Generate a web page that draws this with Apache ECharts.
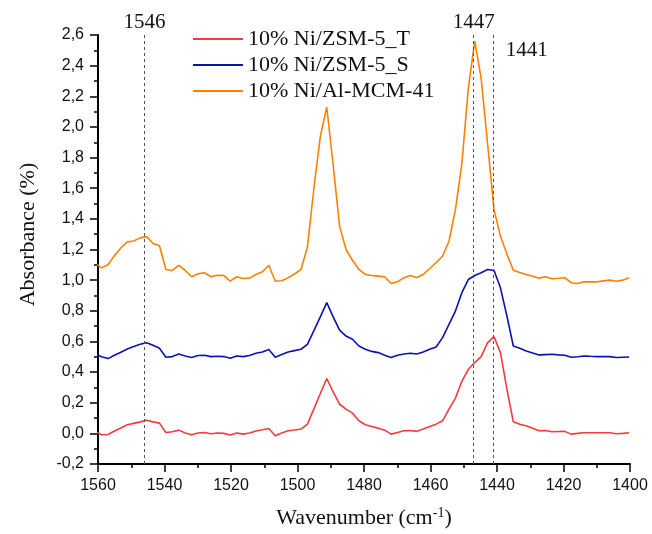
<!DOCTYPE html>
<html>
<head>
<meta charset="utf-8">
<script src="https://cdn.jsdelivr.net/npm/echarts@6/dist/echarts.min.js"></script>
<style>
  html, body { margin: 0; padding: 0; background: #fff; }
  #chart { width: 652px; height: 534px; }
</style>
</head>
<body>
<div id="chart"></div>
<script>
// Wavenumber grid of the spectra (cm-1)
const wavenumbers = [
  1560.86, 1558.93, 1556.99, 1555.06, 1553.12, 1551.19, 1549.25, 1547.32, 1545.38, 1543.45,
  1541.51, 1539.58, 1537.64, 1535.71, 1533.77, 1531.84, 1529.90, 1527.97, 1526.03, 1524.10,
  1522.16, 1520.23, 1518.29, 1516.36, 1514.42, 1512.49, 1510.55, 1508.62, 1506.68, 1504.75,
  1502.81, 1500.88, 1498.94, 1497.01, 1495.07, 1493.14, 1491.20, 1489.27, 1487.33, 1485.40,
  1483.46, 1481.53, 1479.59, 1477.66, 1475.72, 1473.79, 1471.85, 1469.92, 1467.98, 1466.05,
  1464.11, 1462.18, 1460.24, 1458.31, 1456.37, 1454.44, 1452.50, 1450.57, 1448.63, 1446.70,
  1444.76, 1442.83, 1440.89, 1438.96, 1437.02, 1435.09, 1433.15, 1431.22, 1429.28, 1427.35,
  1425.41, 1423.48, 1421.54, 1419.61, 1417.67, 1415.74, 1413.80, 1411.87, 1409.93, 1408.00,
  1406.06, 1404.13, 1402.19, 1400.26
];

// Absorbance (%) of each catalyst
const niZsm5T = [
  0.012, -0.009, -0.007, 0.015, 0.035, 0.056, 0.065, 0.075, 0.086, 0.075,
  0.067, 0.006, 0.010, 0.021, 0.002, -0.009, 0.002, 0.006, -0.003, 0.002,
  0.000, -0.011, 0.002, -0.005, 0.002, 0.015, 0.023, 0.032, -0.016, 0.002,
  0.017, 0.022, 0.028, 0.060, 0.160, 0.260, 0.358, 0.270, 0.190, 0.158,
  0.132, 0.082, 0.056, 0.045, 0.034, 0.021, -0.005, 0.006, 0.017, 0.019,
  0.013, 0.028, 0.045, 0.060, 0.082, 0.158, 0.230, 0.340, 0.418, 0.462,
  0.501, 0.592, 0.631, 0.527, 0.288, 0.075, 0.060, 0.049, 0.033, 0.017,
  0.019, 0.010, 0.012, 0.013, -0.005, 0.000, 0.004, 0.004, 0.004, 0.004,
  0.004, -0.003, 0.000, 0.004
];
const niZsm5S = [
  0.520, 0.500, 0.488, 0.510, 0.530, 0.550, 0.567, 0.581, 0.592, 0.575,
  0.555, 0.497, 0.501, 0.518, 0.505, 0.495, 0.508, 0.510, 0.501, 0.503,
  0.501, 0.490, 0.505, 0.501, 0.508, 0.523, 0.531, 0.547, 0.497, 0.514,
  0.531, 0.540, 0.549, 0.581, 0.670, 0.760, 0.853, 0.760, 0.674, 0.635,
  0.614, 0.570, 0.549, 0.535, 0.527, 0.510, 0.495, 0.510, 0.518, 0.523,
  0.518, 0.531, 0.549, 0.564, 0.625, 0.711, 0.798, 0.918, 1.004, 1.030,
  1.048, 1.070, 1.063, 0.950, 0.766, 0.570, 0.555, 0.538, 0.525, 0.512,
  0.514, 0.516, 0.512, 0.510, 0.497, 0.500, 0.505, 0.503, 0.501, 0.501,
  0.501, 0.495, 0.497, 0.498
];
const niAlMcm41 = [
  1.110, 1.080, 1.100, 1.160, 1.210, 1.250, 1.256, 1.276, 1.284, 1.239,
  1.224, 1.070, 1.063, 1.097, 1.063, 1.022, 1.042, 1.048, 1.022, 1.032,
  1.030, 0.993, 1.022, 1.011, 1.013, 1.037, 1.055, 1.097, 0.993, 0.996,
  1.016, 1.040, 1.070, 1.217, 1.600, 1.937, 2.130, 1.750, 1.351, 1.200,
  1.130, 1.070, 1.037, 1.030, 1.026, 1.022, 0.978, 0.989, 1.016, 1.030,
  1.017, 1.037, 1.076, 1.115, 1.156, 1.254, 1.460, 1.760, 2.250, 2.560,
  2.317, 1.890, 1.460, 1.286, 1.170, 1.065, 1.050, 1.037, 1.025, 1.013,
  1.022, 1.009, 1.012, 1.016, 0.983, 0.978, 0.989, 0.990, 0.989, 0.995,
  1.000, 0.993, 1.000, 1.016
];

const seriesNames = ['10% Ni/ZSM-5_T', '10% Ni/ZSM-5_S', '10% Ni/Al-MCM-41'];
const seriesColors = ['#f23c3c', '#0c12b0', '#ff8000'];
const seriesValues = [niZsm5T, niZsm5S, niAlMcm41];

// Marked band positions (cm-1)
const bandPositions = [1546, 1447, 1441];

// Axis ranges and tick steps
const xRange = { min: 1400, max: 1560, step: 20 };
const yRange = { min: -0.2, max: 2.6, step: 0.2 };

const SERIF = '"Liberation Serif", "Times New Roman", serif';
const SANS = '"Liberation Sans", Arial, sans-serif';

const chart = echarts.init(document.getElementById('chart'), null, { renderer: 'canvas' });

// The 1441 label sits to the right of its line, a little below the top
const bandLines = bandPositions.map(function (b, i) {
  const item = { xAxis: b, label: { formatter: String(b) } };
  if (i === 2) {
    item.label.distance = [33, -26];
    item.label.padding = [0, 0, 0, 66];
  }
  return item;
});

const series = seriesNames.map(function (name, i) {
  const s = {
    name: name,
    type: 'line',
    symbol: 'none',
    showSymbol: false,
    clip: true,
    z: 3,
    lineStyle: { color: seriesColors[i], width: 1.6 },
    itemStyle: { color: seriesColors[i] },
    data: wavenumbers.map(function (w, j) { return [w, seriesValues[i][j]]; })
  };
  if (i === 0) {
    s.markLine = {
      silent: true,
      symbol: ['none', 'none'],
      animation: false,
      lineStyle: { type: [3, 3], color: '#555', width: 1 },
      label: {
        show: true,
        position: 'end',
        distance: 2,
        color: '#111',
        fontFamily: SERIF,
        fontSize: 21
      },
      data: bandLines
    };
  }
  return s;
});

const axisBlack = { color: '#000', width: 2 };

chart.setOption({
  animation: false,
  backgroundColor: '#fff',
  grid: { left: 98, right: 22, top: 35, bottom: 69, containLabel: false },
  legend: {
    orient: 'vertical',
    left: 188,
    top: 23,
    icon: 'rect',
    itemWidth: 50,
    itemHeight: 2,
    itemGap: 4,
    textStyle: { fontFamily: SERIF, fontSize: 22, color: '#111', lineHeight: 22 },
    data: seriesNames
  },
  xAxis: {
    type: 'value',
    inverse: true,
    min: xRange.min,
    max: xRange.max,
    interval: xRange.step,
    name: 'Wavenumber (cm{sup|-1})',
    nameLocation: 'middle',
    nameGap: 42,
    nameTextStyle: {
      fontFamily: SERIF, fontSize: 22, color: '#111',
      rich: { sup: { fontFamily: SERIF, fontSize: 14, color: '#111', verticalAlign: 'bottom', padding: [0, 0, 10, 0] } }
    },
    axisLine: { show: true, onZero: false, lineStyle: axisBlack },
    axisTick: { show: true, length: 8, lineStyle: { color: '#000', width: 1.5 } },
    minorTick: { show: true, splitNumber: 2, length: 4, lineStyle: { color: '#000', width: 1.5 } },
    splitLine: { show: false },
    axisLabel: {
      margin: 14, fontFamily: SANS, fontSize: 16, color: '#111',
      formatter: function (v) { return String(Math.round(v)); }
    }
  },
  yAxis: {
    type: 'value',
    min: yRange.min,
    max: yRange.max,
    interval: yRange.step,
    name: 'Absorbance (%)',
    nameLocation: 'middle',
    nameRotate: 90,
    nameGap: 59,
    nameTextStyle: { fontFamily: SERIF, fontSize: 22, color: '#111', padding: [0, 0, 0, 30] },
    axisLine: { show: true, onZero: false, lineStyle: axisBlack },
    axisTick: { show: true, length: 8, lineStyle: { color: '#000', width: 1.5 } },
    minorTick: { show: true, splitNumber: 2, length: 4, lineStyle: { color: '#000', width: 1.5 } },
    splitLine: { show: false },
    axisLabel: {
      margin: 14, fontFamily: SANS, fontSize: 16, color: '#111',
      formatter: function (v) {
        const r = Math.abs(v) < 1e-9 ? 0 : v;
        return r.toFixed(1).replace('.', ',');
      }
    }
  },
  series: series
});
</script>
</body>
</html>
